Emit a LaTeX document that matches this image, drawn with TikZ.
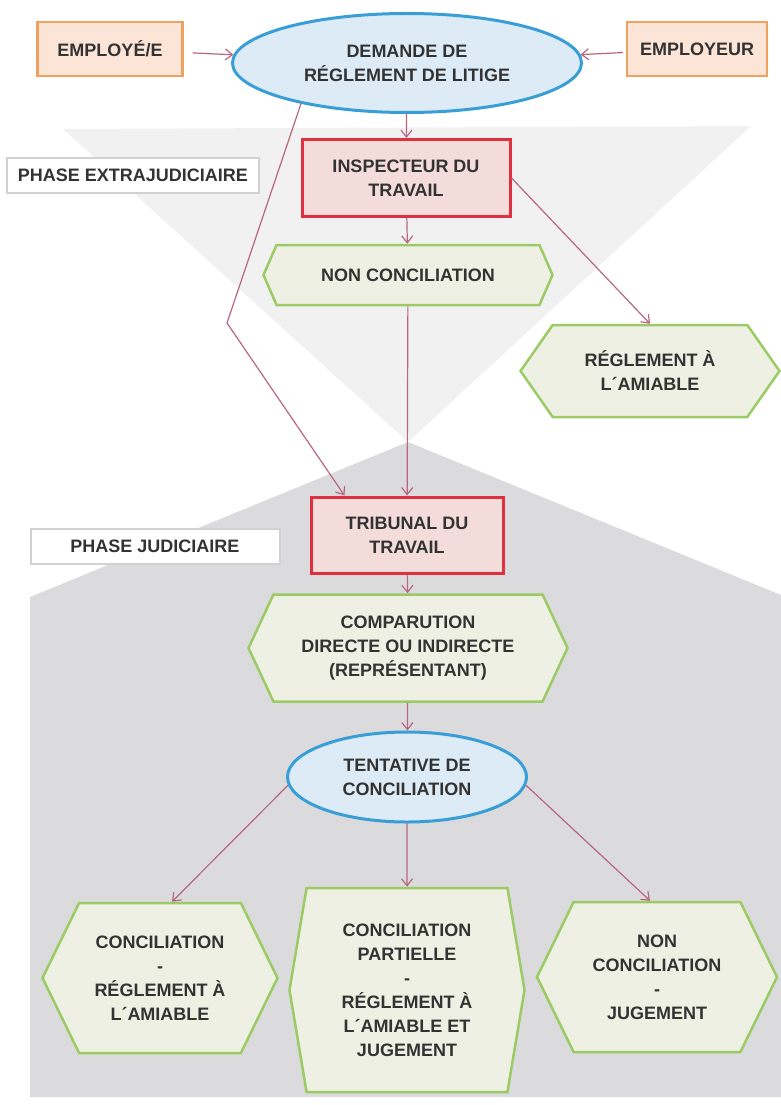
\documentclass[tikz,border=0pt]{standalone}
\usepackage{fontspec}
\setmainfont{Liberation Sans}
\usetikzlibrary{shapes.geometric,shapes.symbols,arrows.meta}

\definecolor{textgray}{HTML}{333333}
\definecolor{orangeline}{HTML}{F0A15E}
\definecolor{orangefill}{HTML}{FCE4D6}
\definecolor{blueline}{HTML}{3A9ED6}
\definecolor{bluefill}{HTML}{DDEBF7}
\definecolor{redline}{HTML}{E0303F}
\definecolor{redfill}{HTML}{F4DCDB}
\definecolor{greenline}{HTML}{9CCB66}
\definecolor{greenfill}{HTML}{EEF0E3}
\definecolor{arrowline}{HTML}{B8667E}
\definecolor{lightzone}{HTML}{F1F1F1}
\definecolor{darkzone}{HTML}{DBDBDE}

\begin{document}
\begin{tikzpicture}[x=1pt, y=-1pt,
      txt/.style = {font=\bfseries\fontsize{18}{24}\selectfont, text=textgray, align=center, inner sep=0pt},
      party/.style = {txt, rectangle, draw=orangeline, fill=orangefill, line width=2.5pt},
      ask/.style = {txt, ellipse, draw=blueline, fill=bluefill, line width=3pt},
      office/.style = {txt, rectangle, draw=redline, fill=redfill, line width=3pt},
      outcome/.style = {txt, signal, signal to=west and east, draw=greenline, fill=greenfill, line width=2.5pt},
      phase/.style = {txt, rectangle, draw=black!18, fill=white, line width=2pt},
      arr/.style = {->, draw=arrowline, line width=1.2pt},
      >={Straight Barb[length=7pt,width=11pt]}
    ]
    \useasboundingbox (0,0) rectangle (781,1105);

    % background zones
    \fill[lightzone] (63,129) -- (751,126) -- (408,442) -- cycle;
    \fill[darkzone] (408,442) -- (781,595) -- (781,1097) -- (30,1097) -- (30,597) -- cycle;

    % parties and request
    \node[party, minimum width=145, minimum height=54] (employe) at (110,49) {EMPLOYÉ/E};
    \node[party, minimum width=140, minimum height=54] (employeur) at (697,49) {EMPLOYEUR};
    \node[ask, minimum width=349, minimum height=99] (demande) at (407,63) {DEMANDE DE\\RÉGLEMENT DE LITIGE};

    % extrajudicial phase
    \node[phase, minimum width=252, minimum height=35] (extra) at (133,175) {PHASE EXTRAJUDICIAIRE};
    \node[office, minimum width=208, minimum height=77] (inspecteur) at (406,178) {INSPECTEUR DU\\TRAVAIL};
    \node[outcome, minimum width=289, minimum height=60, signal pointer angle=133] (nonconc) at (408,275) {NON CONCILIATION};
    \node[outcome, minimum width=259, minimum height=92, signal pointer angle=110] (amiable) at (650,371) {RÉGLEMENT À\\L´AMIABLE};
    \coordinate (bend) at (227,323);

    % judicial phase
    \node[phase, minimum width=249, minimum height=35] (judic) at (155,546) {PHASE JUDICIAIRE};
    \node[office, minimum width=192, minimum height=76] (tribunal) at (407,535) {TRIBUNAL DU\\TRAVAIL};
    \node[outcome, minimum width=319, minimum height=107, signal pointer angle=130] (comparution) at (408,648) {COMPARUTION\\DIRECTE OU INDIRECTE\\(REPRÉSENTANT)};
    \node[ask, minimum width=239, minimum height=90] (tentative) at (407,777) {TENTATIVE DE\\CONCILIATION};

    \node[outcome, minimum width=235, minimum height=150, signal pointer angle=128] (concil) at (160,978) {CONCILIATION\\-\\RÉGLEMENT À\\L´AMIABLE};
    \node[outcome, minimum width=235, minimum height=204, signal pointer angle=161] (partielle) at (407,990) {CONCILIATION\\PARTIELLE\\-\\RÉGLEMENT À\\L´AMIABLE ET\\JUGEMENT};
    \node[outcome, minimum width=240, minimum height=150, signal pointer angle=128] (jugement) at (657,977) {NON\\CONCILIATION\\-\\JUGEMENT};

    % connectors
    \draw[arr, shorten <=9pt] (employe) -- (demande);
    \draw[arr, shorten <=3pt] (employeur) -- (demande);
    \draw[arr] (demande) -- (inspecteur);
    \draw[arr] (inspecteur) -- (nonconc);
    \draw[arr] (inspecteur.east) -- (amiable.north);
    \draw[arr] (demande.201) -- (bend) -- ([xshift=35pt]tribunal.north west);
    \draw[arr] (nonconc) -- (tribunal);
    \draw[arr] (tribunal) -- (comparution);
    \draw[arr] (comparution) -- (tentative);
    \draw[arr] (tentative.184) -- ([xshift=12pt]concil.north);
    \draw[arr] (tentative) -- (partielle);
    \draw[arr] (tentative.356) -- ([xshift=-7pt]jugement.north);
  \end{tikzpicture}
\end{document}
